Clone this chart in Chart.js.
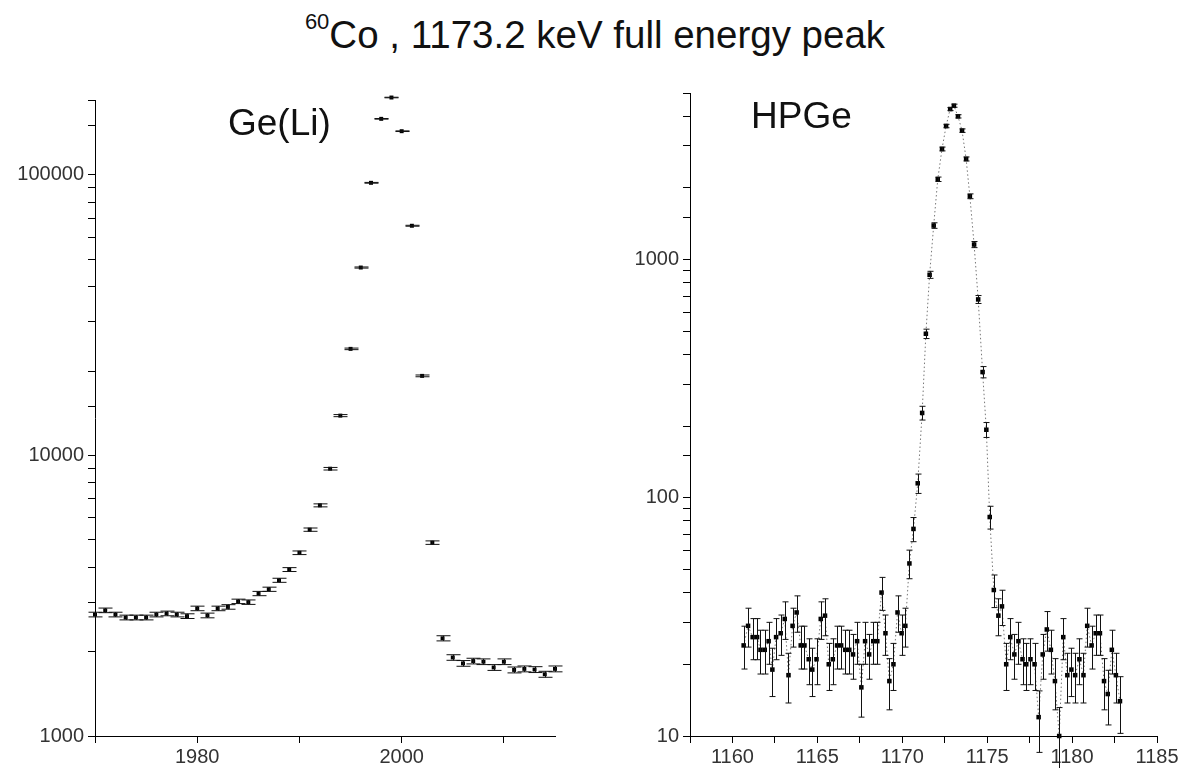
<!DOCTYPE html>
<html>
<head>
<meta charset="utf-8">
<script src="https://cdn.jsdelivr.net/npm/chart.js@4"></script>
<style>
  body { margin: 0; background: #fff; }
  #wrap { position: relative; width: 1182px; height: 768px; background: #fff; overflow: hidden; }
  #title { position: absolute; left: 0; width: 1190px; top: 15px; text-align: center;
           font-family: "Liberation Sans", Arial, sans-serif; font-size: 38.5px; line-height: 40px; color: #111; }
  #title span.sup { font-size: 22px; position: relative; top: -19px; }
  canvas { position: absolute; top: 60px; }
</style>
</head>
<body>
<div id="wrap">
  <div id="title"><span class="sup">60</span>Co , 1173.2 keV full energy peak</div>
  <canvas id="geli" width="590" height="708" style="left:0px"></canvas>
  <canvas id="hpge" width="592" height="708" style="left:590px"></canvas>
</div>
<script>
// Ge(Li) spectrum: channel number vs counts
const gelChannels = [1970,1971,1972,1973,1974,1975,1976,1977,1978,1979,
                     1980,1981,1982,1983,1984,1985,1986,1987,1988,1989,
                     1990,1991,1992,1993,1994,1995,1996,1997,1998,1999,
                     2000,2001,2002,2003,2004,2005,2006,2007,2008,2009,
                     2010,2011,2012,2013,2014,2015];
const gelCounts = [2710,2805,2710,2645,2645,2645,2710,2735,2710,2675,
                   2850,2690,2850,2885,3020,3000,3220,3335,3590,3920,
                   4500,5440,6640,8970,13870,23990,46770,93750,158500,188800,
                   143200,65900,19220,4890,2230,1905,1815,1850,1840,1755,
                   1840,1720,1735,1725,1660,1735];

// HPGe spectrum: energy (keV) vs counts
const hpgeEnergy = [1160.66,1160.92,1161.19,1161.45,1161.65,1161.90,1162.13,1162.35,1162.57,1162.84,
                    1163.08,1163.30,1163.54,1163.78,1164.02,1164.24,1164.49,1164.70,1164.95,1165.20,
                    1165.45,1165.67,1165.91,1166.16,1166.40,1166.64,1166.88,1167.10,1167.34,1167.59,
                    1167.81,1168.05,1168.29,1168.53,1168.78,1169.01,1169.24,1169.48,1169.72,1169.96,
                    1170.18,1170.42,1170.66,1170.91,1171.17,1171.39,1171.61,1171.85,1172.09,1172.34,
                    1172.58,1172.82,1173.04,1173.28,1173.52,1173.76,1173.98,1174.23,1174.47,1174.73,
                    1174.95,1175.15,1175.39,1175.66,1175.87,1176.12,1176.36,1176.60,1176.84,1177.08,
                    1177.30,1177.55,1177.79,1178.03,1178.27,1178.51,1178.75,1178.99,1179.24,1179.48,
                    1179.72,1179.96,1180.18,1180.43,1180.67,1180.89,1181.15,1181.39,1181.64,1181.88,
                    1182.10,1182.34,1182.58,1182.82];
const hpgeCounts = [24,29,26,26,23,23,25,19,26,27,
                    31,18,29,33,24,24,21,19,21,31,
                    32,20,21,24,24,23,23,22,25,16,
                    25,22,25,25,40,27,17,20,33,27,
                    29,53,74,115,227,488,863,1389,2172,2911,
                    3634,4282,4422,3990,3475,2643,1843,1156,680,337,
                    193,83,41,32,35,20,26,22,25,21,
                    20,21,20,12,22,28,23,17,10,26,
                    18,19,18,21,18,29,24,27,27,17,
                    15,23,18,14];

// axis ranges and tick labels
const gelRange = [1970, 2015];
const gelYRange = [1000, 185000];
const gelXLabels = [1980, 2000];
const hpgeRange = [1157.5, 1185];
const hpgeYRange = [10, 5000];
const hpgeXLabels = [1160, 1165, 1170, 1175, 1180, 1185];

// statistical (Poisson) errors of the counts
const gelErrors = gelCounts.map(Math.sqrt);
const hpgeErrors = hpgeCounts.map(Math.sqrt);

const FONT = '"Liberation Sans", Arial, sans-serif';

const errorBars = {
  id: 'errorBars',
  afterDatasetsDraw(chart) {
    const ctx = chart.ctx;
    const ys = chart.scales.y;
    chart.data.datasets.forEach((ds, i) => {
      if (!ds.errors) return;
      const meta = chart.getDatasetMeta(i);
      ctx.save();
      ctx.strokeStyle = '#111';
      ctx.lineWidth = 1;
      meta.data.forEach((pt, j) => {
        const v = ds.data[j].y, e = ds.errors[j];
        const yTop = ys.getPixelForValue(v + e);
        const yBot = ys.getPixelForValue(Math.max(v - e, 0.5));
        const x = Math.round(pt.x) + 0.5;
        const w = ds.capHalf;
        ctx.beginPath();
        ctx.moveTo(x, yTop); ctx.lineTo(x, yBot);
        ctx.moveTo(x - w, yTop); ctx.lineTo(x + w, yTop);
        ctx.moveTo(x - w, yBot); ctx.lineTo(x + w, yBot);
        ctx.stroke();
      });
      ctx.restore();
    });
  }
};

const panelLabel = {
  id: 'panelLabel',
  afterDraw(chart, args, opts) {
    const ctx = chart.ctx;
    const a = chart.chartArea;
    ctx.save();
    ctx.font = '37px ' + FONT;
    ctx.fillStyle = '#111';
    ctx.textBaseline = 'alphabetic';
    ctx.fillText(opts.text, a.left + opts.dx, a.top + opts.dy);
    ctx.restore();
  }
};

function logLabel(v) {
  const l = Math.log10(v);
  return Math.abs(l - Math.round(l)) < 1e-9 ? String(v) : '';
}

function baseScales(xr, yr, xStep, xLabels, yWidth) {
  return {
    x: {
      type: 'linear', min: xr[0], max: xr[1],
      border: { color: '#000', width: 1 },
      grid: { drawOnChartArea: false, drawTicks: true, tickLength: 7, tickColor: '#000' },
      ticks: {
        stepSize: xStep, includeBounds: false, autoSkip: false, maxRotation: 0,
        color: '#333', padding: 2, font: { family: FONT, size: 20 },
        callback: v => xLabels.includes(v) ? String(v) : ''
      },
      afterFit: s => { s.height = 32; }
    },
    y: {
      type: 'logarithmic', min: yr[0], max: yr[1],
      border: { color: '#000', width: 1 },
      grid: { drawOnChartArea: false, drawTicks: true, tickLength: 7, tickColor: '#000' },
      ticks: {
        autoSkip: false, color: '#333', padding: 4, font: { family: FONT, size: 20 },
        callback: logLabel
      },
      afterFit: s => { s.width = yWidth; }
    }
  };
}

new Chart(document.getElementById('geli'), {
  type: 'scatter',
  data: {
    datasets: [{
      data: gelChannels.map((c, i) => ({ x: c, y: gelCounts[i] })),
      errors: gelErrors,
      capHalf: 7,
      showLine: false,
      pointStyle: 'rect',
      pointRadius: 2.8,
      pointBackgroundColor: '#000',
      pointBorderWidth: 0,
      clip: false
    }]
  },
  options: {
    responsive: false,
    animation: false,
    devicePixelRatio: 1,
    layout: { padding: { top: 40, right: 35, left: 0, bottom: 0 } },
    plugins: {
      legend: { display: false },
      tooltip: { enabled: false },
      panelLabel: { text: 'Ge(Li)', dx: 133, dy: 35 }
    },
    scales: baseScales(gelRange, gelYRange, 10, gelXLabels, 95)
  },
  plugins: [errorBars, panelLabel]
});

new Chart(document.getElementById('hpge'), {
  type: 'scatter',
  data: {
    datasets: [{
      data: hpgeEnergy.map((e, i) => ({ x: e, y: hpgeCounts[i] })),
      errors: hpgeErrors,
      capHalf: 3,
      showLine: true,
      borderColor: '#777',
      borderWidth: 1,
      borderDash: [1.5, 2.5],
      tension: 0,
      pointStyle: 'rect',
      pointRadius: 3.2,
      pointBackgroundColor: '#000',
      pointBorderWidth: 0,
      clip: false
    }]
  },
  options: {
    responsive: false,
    animation: false,
    devicePixelRatio: 1,
    layout: { padding: { top: 33, right: 25, left: 0, bottom: 0 } },
    plugins: {
      legend: { display: false },
      tooltip: { enabled: false },
      panelLabel: { text: 'HPGe', dx: 61, dy: 35 }
    },
    scales: baseScales(hpgeRange, hpgeYRange, 2.5, hpgeXLabels, 100)
  },
  plugins: [errorBars, panelLabel]
});
</script>
</body>
</html>
